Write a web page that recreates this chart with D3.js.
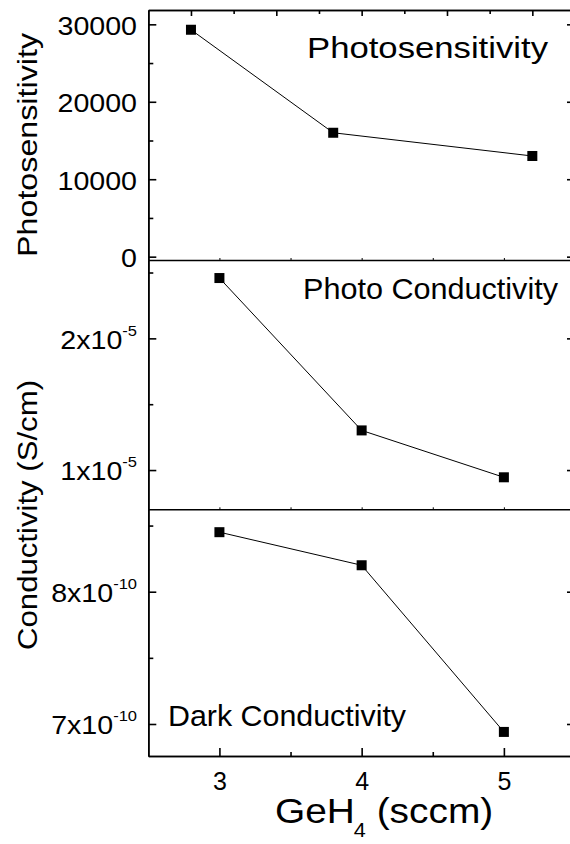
<!DOCTYPE html>
<html><head><meta charset="utf-8">
<script src="https://cdn.jsdelivr.net/npm/d3@7"></script>
<style>
html,body{margin:0;padding:0;background:#fff;}
svg{display:block;}
text{font-family:"Liberation Sans",Arial,Helvetica,sans-serif;fill:#000;}
</style>
</head><body>
<svg id="chart" width="570" height="844"></svg>
<script>
// ---------------- data ----------------
const gasFlow = [3, 4, 5];                       // GeH4 (sccm)
const photosensX = [2.8, 3.8, 5.2];              // x positions of photosensitivity layer
const photosensitivity = [29300, 16000, 13000];
const photoConductivity = [2.458e-5, 1.301e-5, 0.945e-5];
const darkConductivity = [8.45e-10, 8.20e-10, 6.94e-10];

const xTickValues = [3, 4, 5];
const xMinorValues = [3.5, 4.5];
const topXTickValues = [2.8, 3.4, 4.0, 4.6, 5.2];
const topXMinorValues = [3.1, 3.7, 4.3, 4.9];
const psTicks = [0, 10000, 20000, 30000];
const psMinor = [5000, 15000, 25000];
const pcTicks = [1e-5, 2e-5];
const pcMinor = [1.5e-5, 2.5e-5];
const dcTicks = [7e-10, 8e-10];
const dcMinor = [7.5e-10, 8.5e-10];

const panelLabels = ["Photosensitivity", "Photo Conductivity", "Dark Conductivity"];
const yTitles = ["Photosensitivity", "Conductivity (S/cm)"];

// ---------------- layout ----------------
const svg = d3.select("#chart");
const L = 148.3, R = 575;
const T = 10, D1 = 260, D2 = 509.3, B = 756;
const AX = 1.6;

const x = d3.scaleLinear([2.5, 5.5], [L, R]);
const yPS = d3.scaleLinear([-430, 31850], [D1, T]);
const yPC = d3.scaleLinear([0.702e-5, 2.595e-5], [D2, D1]);
const yDC = d3.scaleLinear([6.758e-10, 8.623e-10], [B, D2]);

const SX = 1.1;   // horizontal stretch of the tick label font

function styleAxis(g) {
  g.selectAll("path.domain").attr("stroke", "#000").attr("stroke-width", AX);
  g.selectAll(".tick line").attr("stroke", "#000").attr("stroke-width", AX);
}

function sciLabel(textSel, d) {
  const exp = Math.floor(Math.log10(d) + 1e-9);
  const mant = Math.round(d / Math.pow(10, exp));
  textSel.text(null);
  textSel.append("tspan").text(mant + "x10");
  textSel.append("tspan").attr("font-size", 15).attr("dy", -13).text(String(exp));
}

function leftAxis(y, ticks, minor, sci) {
  const gm = svg.append("g").attr("transform", `translate(${L},0)`)
    .call(d3.axisLeft(y).tickValues(minor).tickSize(-5).tickSizeOuter(0).tickFormat(""));
  styleAxis(gm);
  const g = svg.append("g").attr("transform", `translate(${L},0)`)
    .call(d3.axisLeft(y).tickValues(ticks).tickSize(-8).tickSizeOuter(0).tickPadding(11.3)
      .tickFormat(d3.format("d")));
  styleAxis(g);
  g.selectAll(".tick text")
    .attr("font-family", null).attr("font-size", 26)
    .attr("dy", "0.38em")
    .attr("x", -11.3 / SX)
    .attr("transform", `scale(${SX},1)`);
  if (sci) g.selectAll(".tick text").each(function(d){ sciLabel(d3.select(this), d); });
  const gr = svg.append("g").attr("transform", `translate(${R},0)`)
    .call(d3.axisRight(y).tickValues(ticks).tickSize(-8).tickSizeOuter(0).tickFormat(""));
  styleAxis(gr);
}

leftAxis(yPS, psTicks, psMinor, false);
leftAxis(yPC, pcTicks, pcMinor, true);
leftAxis(yDC, dcTicks, dcMinor, true);

// top axis of the top panel
const gtm = svg.append("g").attr("transform", `translate(0,${T})`)
  .call(d3.axisTop(x).tickValues(topXMinorValues).tickSize(-4).tickSizeOuter(0).tickFormat(""));
styleAxis(gtm);
const gt = svg.append("g").attr("transform", `translate(0,${T})`)
  .call(d3.axisTop(x).tickValues(topXTickValues).tickSize(-6).tickSizeOuter(0).tickFormat(""));
styleAxis(gt);

// dividers between panels
[D1, D2].forEach(yy => {
  const g = svg.append("g").attr("transform", `translate(0,${yy})`)
    .call(d3.axisBottom(x).tickValues(xTickValues.concat(xMinorValues)).tickSize(-2).tickSizeOuter(0).tickFormat(""));
  styleAxis(g);
  g.selectAll(".tick line").attr("stroke-width", 1);
});

// bottom axis
const gbm = svg.append("g").attr("transform", `translate(0,${B})`)
  .call(d3.axisBottom(x).tickValues(xMinorValues).tickSize(-4).tickSizeOuter(0).tickFormat(""));
styleAxis(gbm);
const gb = svg.append("g").attr("transform", `translate(0,${B})`)
  .call(d3.axisBottom(x).tickValues(xTickValues).tickSize(-8).tickSizeOuter(0).tickPadding(0).tickFormat(d3.format("d")));
styleAxis(gb);
gb.selectAll(".tick text").attr("font-family", null).attr("font-size", 25)
  .attr("dy", null).attr("y", 33.5);

// ---------------- series ----------------
function series(xs, ys, xScale, yScale) {
  const pts = xs.map((v, i) => [xScale(v), yScale(ys[i])]);
  svg.append("path").datum(pts)
    .attr("d", d3.line()).attr("fill", "none").attr("stroke", "#000").attr("stroke-width", 1);
  svg.append("g").selectAll("rect").data(pts).join("rect")
    .attr("x", d => d[0] - 5).attr("y", d => d[1] - 5)
    .attr("width", 10).attr("height", 10).attr("fill", "#000");
}
series(photosensX, photosensitivity, x, yPS);
series(gasFlow, photoConductivity, x, yPC);
series(gasFlow, darkConductivity, x, yDC);

// ---------------- texts ----------------
function label(txt, px, py, size, len) {
  svg.append("text").attr("x", px).attr("y", py).attr("font-size", size)
    .attr("textLength", len).attr("lengthAdjust", "spacingAndGlyphs").text(txt);
}
label(panelLabels[0], 307, 58, 30, 241);
label(panelLabels[1], 303, 299, 30, 255);
label(panelLabels[2], 168, 726, 30, 238);

function yTitle(txt, cy, len) {
  svg.append("text").attr("transform", `translate(37,${cy}) rotate(-90)`)
    .attr("text-anchor", "middle").attr("font-size", 28)
    .attr("textLength", len).attr("lengthAdjust", "spacingAndGlyphs").text(txt);
}
yTitle(yTitles[0], 145, 224);
yTitle(yTitles[1], 515, 270);

const xt = svg.append("text").attr("transform", `translate(275,823) scale(1.08,1)`).attr("font-size", 36);
xt.append("tspan").text("GeH");
xt.append("tspan").attr("font-size", 20).attr("dy", 14).attr("dx", -1).text("4");
xt.append("tspan").attr("dy", -14).text(" (sccm)");
</script>
</body></html>
